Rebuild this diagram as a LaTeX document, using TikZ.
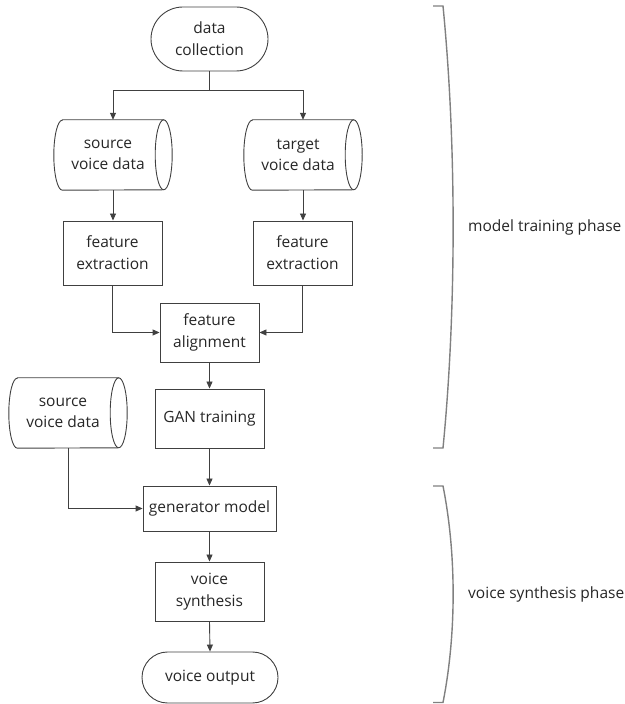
\documentclass[tikz,border=0pt]{standalone}
\usepackage{fontspec}
\setmainfont{Open Sans}
\usetikzlibrary{arrows.meta,shapes.misc}
\definecolor{linec}{HTML}{404040}
\definecolor{txtc}{HTML}{262626}
\definecolor{brc}{HTML}{808080}
\tikzset{
  box/.style={draw=linec, line width=0.9pt, rectangle, inner sep=0pt, align=center, text=txtc, font=\fontsize{15.5}{21.7}\selectfont},
  term/.style={box, rounded rectangle},
  cylbox/.style={rectangle, inner sep=0pt, minimum width=118pt, minimum height=70pt},
  cyltxt/.style={align=center, text=txtc, inner sep=0pt, font=\fontsize{15.5}{21.7}\selectfont},
  conn/.style={draw=linec, line width=0.9pt},
  arr/.style={conn, -{Triangle[length=7pt,width=6pt]}},
  brace/.style={draw=brc, line width=1.4pt},
  phase/.style={anchor=west, text=txtc, inner sep=0pt, font=\fontsize{15.5}{18}\selectfont},
}
\newcommand{\cylout}[1]{%
  \draw[draw=linec, line width=0.9pt] ([xshift=8.5pt]#1.north west) -- ([xshift=-8.5pt]#1.north east)
    arc[start angle=90,end angle=-90,x radius=8.5pt,y radius=35pt]
    -- ([xshift=8.5pt]#1.south west)
    arc[start angle=270,end angle=90,x radius=8.5pt,y radius=35pt] -- cycle;
  \draw[draw=linec, line width=0.9pt] ([xshift=-8.5pt]#1.north east)
    arc[start angle=90,end angle=270,x radius=8.5pt,y radius=35pt];}
\begin{document}
\begin{tikzpicture}[x=1pt,y=1pt]
\useasboundingbox (0,0) rectangle (624,704);
% nodes
\node[term, minimum width=117pt, minimum height=64pt] (dc) at (209.5,665) {data\\collection};
\node[cylbox] (src1) at (113,549) {};
\node[cylbox] (tgt) at (303,549) {};
\cylout{src1}
\cylout{tgt}
\node[cyltxt] (src1t) at ([xshift=-5pt]src1.center) {source\\voice data};
\node[cyltxt] (tgtt) at ([xshift=-5pt]tgt.center) {target\\voice data};
\node[box, minimum width=99pt, minimum height=64pt] (fe1) at (112.5,451) {feature\\extraction};
\node[box, minimum width=99pt, minimum height=64pt] (fe2) at (302.5,451) {feature\\extraction};
\node[box, minimum width=99pt, minimum height=59pt] (fa) at (209.5,371.5) {feature\\alignment};
\node[box, minimum width=109pt, minimum height=59pt] (gan) at (209.5,285.5) {GAN training};
\node[cylbox] (src2) at (68,291) {};
\cylout{src2}
\node[cyltxt] (src2t) at ([xshift=-5pt]src2.center) {source\\voice data};
\node[box, minimum width=133pt, minimum height=45pt] (gen) at (209.5,195.5) {generator model};
\node[box, minimum width=109pt, minimum height=59pt] (vs) at (209.5,112.5) {voice\\synthesis};
\node[term, minimum width=136pt, minimum height=51pt] (vo) at (210,26.5) {voice output};
% connectors
\coordinate (j) at (209.5,614);
\draw[conn] (dc.south) -- (j);
\draw[arr] (j) -| (src1.north);
\draw[arr] (j) -| (tgt.north);
\draw[arr] (src1.south) -- (src1.south |- fe1.north);
\draw[arr] (tgt.south) -- (tgt.south |- fe2.north);
\draw[arr] (fe1.south) |- (fa.west);
\draw[arr] (fe2.south) |- (fa.east);
\draw[arr] (fa.south) -- (gan.north);
\draw[arr] (gan.south) -- (gen.north);
\draw[arr] (src2.south) |- (gen.west);
\draw[arr] (gen.south) -- (vs.north);
\draw[arr] (vs.south) -- (vo.north);
% brackets
\coordinate (b1a) at (433,698);
\coordinate (b1b) at (443,698);
\coordinate (b1c) at (443,256);
\coordinate (b1d) at (433,256);
\draw[brace] (b1a) -- (b1b) .. controls (456.5,560) and (456.5,394) .. (b1c) -- (b1d);
\coordinate (b2a) at (433,218);
\coordinate (b2b) at (443,218);
\coordinate (b2c) at (443,1.5);
\coordinate (b2d) at (433,1.5);
\draw[brace] (b2a) -- (b2b) .. controls (456.5,150) and (456.5,70) .. (b2c) -- (b2d);
\node[phase] (p1) at (468,477) {model training phase};
\node[phase] (p2) at (468,110) {voice synthesis phase};
\end{tikzpicture}
\end{document}
